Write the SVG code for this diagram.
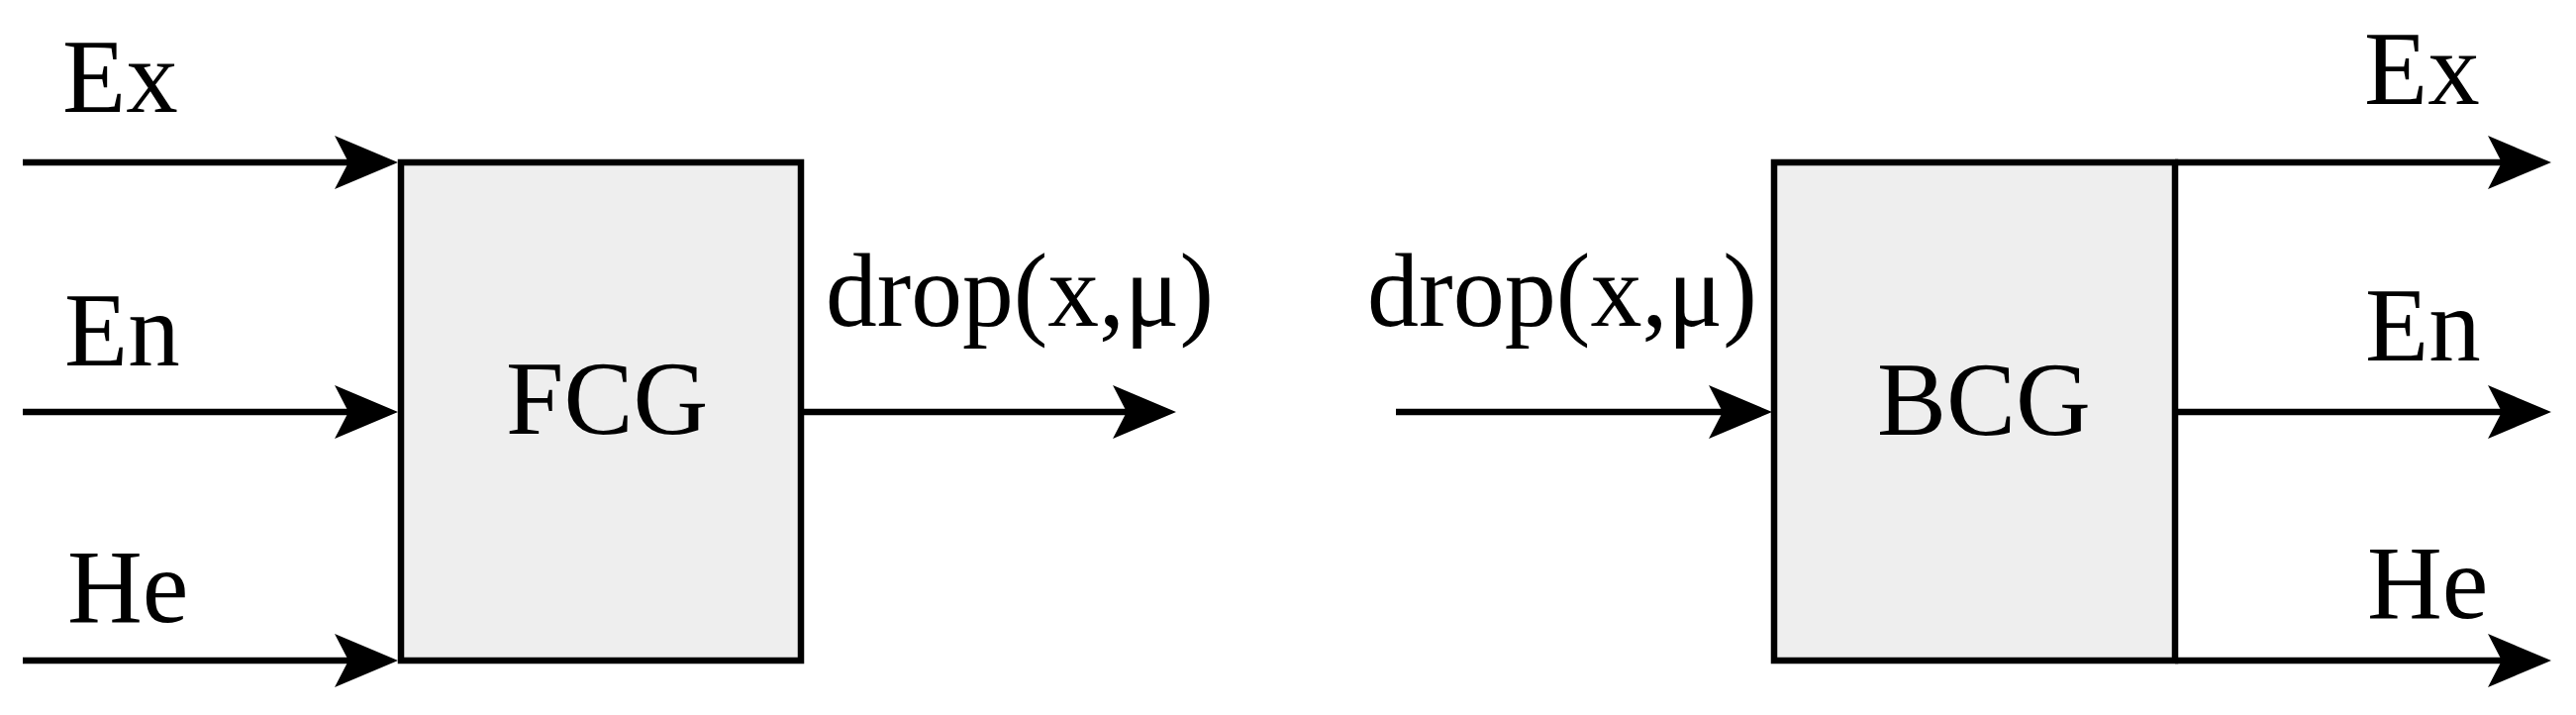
<svg xmlns="http://www.w3.org/2000/svg" width="2602" height="722" viewBox="0 0 2602 722">
<style>
.box{fill:#eeeeee;stroke:#000;stroke-width:6.5}
.conn{stroke:#000;stroke-width:6.5;fill:none}
.lbl{font-family:"Liberation Serif","Times New Roman",serif;font-size:105px;fill:#000}
</style>
<defs>
<marker id="arr" markerUnits="userSpaceOnUse" markerWidth="72" markerHeight="62" viewBox="-68 -31 72 62" refX="-50" refY="0" orient="auto">
<path d="M0,0 L-64,-27 L-50,0 L-64,27 Z" fill="#000"/>
</marker>
</defs>
<rect width="2602" height="722" fill="#fff"/>
<g id="FCG">
<rect class="box" x="405" y="164" width="404" height="503"/>
<text class="lbl" x="511" y="438">FCG</text>
</g>
<g id="BCG">
<rect class="box" x="1792" y="164" width="405" height="503"/>
<text class="lbl" x="1896" y="439">BCG</text>
</g>
<g id="connectors">
<line class="conn" x1="23" y1="164" x2="352" y2="164" marker-end="url(#arr)"/>
<line class="conn" x1="23" y1="416" x2="352" y2="416" marker-end="url(#arr)"/>
<line class="conn" x1="23" y1="667" x2="352" y2="667" marker-end="url(#arr)"/>
<line class="conn" x1="809" y1="416" x2="1138" y2="416" marker-end="url(#arr)"/>
<line class="conn" x1="1410" y1="416" x2="1740" y2="416" marker-end="url(#arr)"/>
<line class="conn" x1="2197" y1="164" x2="2527" y2="164" marker-end="url(#arr)"/>
<line class="conn" x1="2197" y1="416" x2="2527" y2="416" marker-end="url(#arr)"/>
<line class="conn" x1="2197" y1="667" x2="2527" y2="667" marker-end="url(#arr)"/>
</g>
<g id="labels">
<text class="lbl" x="63" y="113">Ex</text>
<text class="lbl" x="65" y="369">En</text>
<text class="lbl" x="68" y="628">He</text>
<text class="lbl" x="834" y="329" textLength="392" lengthAdjust="spacingAndGlyphs">drop(x,μ)</text>
<text class="lbl" x="1381" y="329" textLength="394" lengthAdjust="spacingAndGlyphs">drop(x,μ)</text>
<text class="lbl" x="2388" y="105">Ex</text>
<text class="lbl" x="2389" y="364">En</text>
<text class="lbl" x="2391" y="624">He</text>
</g>
</svg>
